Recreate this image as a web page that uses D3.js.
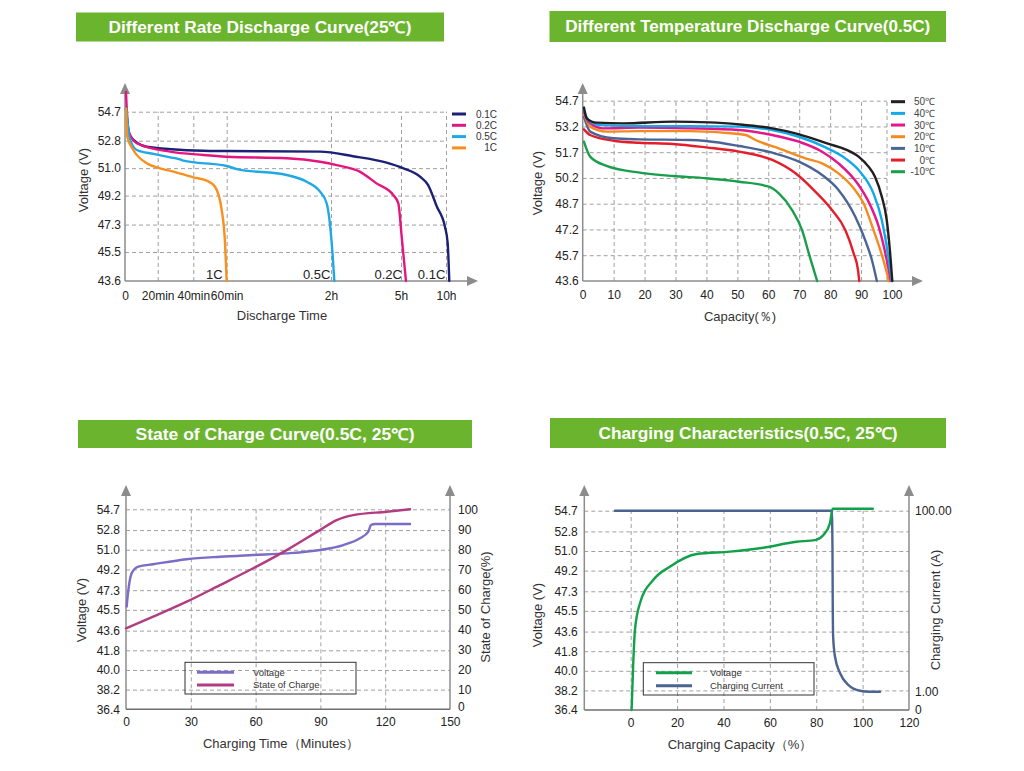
<!DOCTYPE html>
<html>
<head>
<meta charset="utf-8">
<script src="https://cdn.jsdelivr.net/npm/d3@7"></script>
<style>
  html, body { margin: 0; padding: 0; background: #fff; }
  svg { display: block; font-family: "Liberation Sans", Arial, sans-serif; }
</style>
</head>
<body>
<svg id="chart" width="1024" height="771"></svg>
<script>
// ---------- data: rate discharge (minutes, volts) ----------
var rateTimeTicks = [0, 20, 40, 60, 120, 300, 600];
var rateTimeLabels = ["0", "20min", "40min", "60min", "2h", "5h", "10h"];
var rateVoltTicks = [43.6, 45.5, 47.3, 49.2, 51.0, 52.8, 54.7];
var rateNames = ["0.1C", "0.2C", "0.5C", "1C"];
var rate01C = [[0.6, 54.9], [3, 53.1], [13.3, 52.4], [45.8, 52.14], [60, 52.12], [113.7, 52.08], [176.6, 51.78],
  [263, 51.36], [313, 51.0], [426.7, 50.44], [480, 49.9], [538, 48.5], [593, 47.16], [611, 46.1], [622, 43.6]];
var rate02C = [[0.6, 56.0], [2, 53.5], [7.2, 52.63], [26.9, 52.08], [46, 51.86], [60, 51.75], [94.5, 51.65],
  [113.7, 51.42], [134.7, 51.2], [194, 50.77], [237, 50.0], [280, 49.24], [293, 48.7], [304.7, 46.5], [333, 43.6]];
var rate05C = [[0.9, 54.9], [2.6, 53.06], [7.2, 52.19], [17.4, 51.93], [26.9, 51.71], [32.5, 51.58], [34.4, 51.49],
  [60, 51.14], [65.8, 50.94], [94.5, 50.55], [106, 50.11], [113.7, 49.46], [117.5, 48.7], [121.8, 46.1], [128.6, 43.6]];
var rate1C = [[0.6, 54.9], [1.4, 53.06], [5.1, 52.19], [13.3, 51.32], [21.4, 50.99], [28.9, 50.77], [40, 50.4],
  [48, 50.18], [53, 49.78], [57, 48.26], [59, 46.1], [60, 43.6]];

// ---------- data: temperature discharge (capacity %, volts) ----------
var tempCapTicks = [0, 10, 20, 30, 40, 50, 60, 70, 80, 90, 100];
var tempVoltTicks = [43.6, 45.7, 47.2, 48.7, 50.2, 51.7, 53.2, 54.7];
var tempNames = ["50℃", "40℃", "30℃", "20℃", "10℃", "0℃", "-10℃"];
var temp50 = [[0.4, 54.3], [1.3, 53.67], [4.5, 53.42], [13.1, 53.38], [29.2, 53.48], [40.9, 53.44], [50.6, 53.32],
  [61.3, 53.09], [68.8, 52.8], [74.2, 52.51], [79.5, 52.18], [84.9, 51.87], [89.2, 51.44], [92.4, 50.86],
  [94.5, 50.27], [96.7, 49.11], [98.3, 47.75], [99.4, 45.81], [100.1, 43.6]];
var temp40 = [[0.4, 54.16], [1.8, 53.57], [5.6, 53.28], [18.4, 53.22], [34.5, 53.22], [50.6, 53.19], [61.3, 52.99],
  [69.9, 52.6], [78.5, 51.98], [84.9, 51.34], [89.2, 50.66], [94, 49.3], [96.7, 47.75], [98.8, 45.58], [99.9, 43.6]];
var temp30 = [[0.4, 54.06], [1.8, 53.48], [6.6, 53.09], [18.4, 53.13], [34.5, 53.09], [50.6, 52.99], [61.3, 52.7],
  [69.9, 52.31], [77.4, 51.73], [82.7, 51.05], [89.2, 49.79], [92.4, 48.82], [95.7, 47.36], [98.3, 45.31], [99.6, 43.6]];
var temp20 = [[0.4, 53.96], [2.4, 53.19], [7.7, 52.9], [18.4, 52.93], [34.5, 52.93], [45.2, 52.84], [52.7, 52.7],
  [55.9, 52.41], [63.4, 51.92], [72, 51.34], [77.4, 51.05], [82.7, 50.47], [87.6, 49.6], [90.8, 48.72],
  [94, 47.17], [97.2, 45.31], [99, 43.6]];
var temp10 = [[0.4, 53.77], [2.4, 52.9], [9.9, 52.51], [18.4, 52.45], [34.5, 52.41], [39.9, 52.35], [50.6, 52.06],
  [61.3, 51.67], [69.9, 51.15], [77.4, 50.37], [82.7, 49.5], [88.1, 47.95], [91.3, 46.59], [93.5, 45.31], [95.1, 43.6]];
var temp0 = [[0.4, 53.03], [2.4, 52.7], [9.9, 52.37], [18.4, 52.25], [29.2, 52.18], [39.9, 51.98], [50.6, 51.73],
  [61.3, 51.25], [68.8, 50.47], [75.2, 49.4], [80.6, 48.33], [84.9, 47.17], [87.6, 45.81], [89, 44.5], [89.4, 43.6]];
var tempM10 = [[0.4, 52.31], [2.4, 51.44], [7.7, 50.9], [18.4, 50.51], [29.2, 50.31], [39.9, 50.18], [50.6, 49.98],
  [60.2, 49.69], [63.4, 49.3], [67.7, 48.33], [70.9, 47.17], [73.1, 45.81], [74.7, 44.5], [75.8, 43.6]];

// ---------- data: state of charge (minutes, volts / %) ----------
var socTimeTicks = [0, 30, 60, 90, 120, 150];
var chargeVoltTicks = [36.4, 38.2, 40.0, 41.8, 43.6, 45.5, 47.3, 49.2, 51.0, 52.8, 54.7];
var socTicks = [0, 10, 20, 30, 40, 50, 60, 70, 80, 90, 100];
var socVoltage = [[0.3, 45.79], [1.1, 47.32], [2.6, 48.84], [5.7, 49.45], [12.6, 49.67], [28.1, 50.13], [43.5, 50.36],
  [58.9, 50.52], [74.4, 50.67], [89.8, 50.98], [100.6, 51.43], [108.3, 52.05], [112.2, 52.65], [113.4, 53.26],
  [115.3, 53.36], [131.5, 53.36]];
var socPercent = [[0, 40.5], [12.6, 46.3], [28.1, 53.8], [43.5, 62.1], [58.9, 70.5], [74.4, 79.6], [89.8, 89.6],
  [97.5, 94.6], [105.2, 97.1], [120.7, 98.8], [131.5, 100]];

// ---------- data: charging characteristics (capacity %, volts / amps) ----------
var chgCapTicks = [0, 20, 40, 60, 80, 100, 120];
var chgCurrentTicks = [0, 1, 100];
var chgVoltage = [[0.4, 36.4], [1.1, 40.69], [1.85, 43.75], [4.0, 46.2], [9.7, 48.34], [16.9, 49.56], [28.5, 50.72],
  [42.8, 50.94], [57.2, 51.3], [71.5, 51.85], [79.5, 52.0], [83.1, 52.47], [85.9, 53.54], [87.1, 54.88], [104.4, 54.88]];
var chgCurrent = [[-6.8, 100], [86.7, 100], [87.0, 80], [87.1, 53], [87.3, 31], [88.1, 20.1], [90.3, 11.1],
  [93.8, 4.7], [98.9, 1.5], [103, 1.0], [107.5, 1.0]];

// ---------- drawing ----------
var svg = d3.select("#chart");
var GRID = "#a0a0a0", AXIS = "#8c8c8c", INK = "#222", FONT = "Liberation Sans, Arial, sans-serif";

function title(x, y, w, h, text, len) {
  svg.append("rect").attr("x", x).attr("y", y).attr("width", w).attr("height", h).attr("fill", "#6bb42d");
  svg.append("text")
    .attr("x", x + w / 2).attr("y", y + h / 2 + 5.5)
    .attr("text-anchor", "middle").attr("fill", "#fff")
    .attr("font-size", 16).attr("font-weight", "bold")
    .attr("textLength", len).attr("lengthAdjust", "spacingAndGlyphs")
    .text(text);
}

function axisUp(x, yBase, yTip) {
  svg.append("line").attr("x1", x).attr("x2", x).attr("y1", yBase).attr("y2", yTip + 10)
    .attr("stroke", AXIS).attr("stroke-width", 1.5);
  svg.append("path").attr("d", "M" + x + "," + yTip + "L" + (x - 5) + "," + (yTip + 11) + "L" + (x + 5) + "," + (yTip + 11) + "Z")
    .attr("fill", AXIS);
}

function axisRight(y, xStart, xTip, arrow, color) {
  svg.append("line").attr("x1", xStart).attr("x2", arrow ? xTip - 10 : xTip).attr("y1", y).attr("y2", y)
    .attr("stroke", color || AXIS).attr("stroke-width", 1.5);
  if (arrow) {
    svg.append("path").attr("d", "M" + xTip + "," + y + "L" + (xTip - 11) + "," + (y - 5) + "L" + (xTip - 11) + "," + (y + 5) + "Z")
      .attr("fill", AXIS);
  }
}

function styleGrid(s) {
  s.select(".domain").remove();
  s.selectAll("line").attr("stroke", GRID).attr("stroke-dasharray", "4,3");
}

function gridH(y, vals, x1, x2) {
  svg.append("g").attr("transform", "translate(" + x1 + ",0)")
    .call(d3.axisLeft(y).tickValues(vals).tickSize(-(x2 - x1)).tickFormat(""))
    .call(styleGrid);
}

function gridV(x, vals, y0, yTop) {
  svg.append("g").attr("transform", "translate(0," + y0 + ")")
    .call(d3.axisBottom(x).tickValues(vals).tickSize(-(y0 - yTop)).tickFormat(""))
    .call(styleGrid);
}

function styleLabels(s) {
  s.select(".domain").remove();
  s.attr("font-family", FONT).attr("font-size", 12).attr("color", INK);
}

function labelsLeft(y, vals, x, pad, fmt) {
  svg.append("g").attr("transform", "translate(" + x + ",0)")
    .call(d3.axisLeft(y).tickValues(vals).tickSize(0).tickPadding(pad).tickFormat(fmt))
    .call(styleLabels);
}

function labelsRight(y, vals, x, pad, fmt) {
  return svg.append("g").attr("transform", "translate(" + x + ",0)")
    .call(d3.axisRight(y).tickValues(vals).tickSize(0).tickPadding(pad).tickFormat(fmt))
    .call(styleLabels);
}

function labelsBottom(x, vals, y, pad, fmt) {
  svg.append("g").attr("transform", "translate(0," + y + ")")
    .call(d3.axisBottom(x).tickValues(vals).tickSize(0).tickPadding(pad).tickFormat(fmt))
    .call(styleLabels);
}

function hTitle(x, y, text) {
  svg.append("text").attr("x", x).attr("y", y).attr("text-anchor", "middle")
    .attr("font-size", 13).attr("fill", "#333").text(text);
}

function vTitle(x, y, text) {
  svg.append("text").attr("transform", "translate(" + x + "," + y + ") rotate(-90)")
    .attr("text-anchor", "middle").attr("font-size", 13).attr("fill", "#333").text(text);
}

function curve(data, x, y, color) {
  var line = d3.line().x(function(d) { return x(d[0]); }).y(function(d) { return y(d[1]); })
    .curve(d3.curveMonotoneX);
  svg.append("path").datum(data).attr("d", line)
    .attr("fill", "none").attr("stroke", color).attr("stroke-width", 2.4)
    .attr("stroke-linejoin", "round").attr("stroke-linecap", "round");
}

var fmt1 = d3.format(".1f");

// ===== Panel 1: Different Rate Discharge Curve =====
(function() {
  title(76, 12.5, 368, 29, "Different Rate Discharge Curve(25℃)", 303);
  var x = d3.scaleLinear().domain(rateTimeTicks).range([125, 157.7, 193.3, 226.7, 331, 401, 446]);
  var y = d3.scaleLinear().domain([43.6, 54.7]).range([281, 111.7]);
  gridH(y, rateVoltTicks.slice(1), 125, x(600));
  gridV(x, rateTimeTicks.slice(1), 281, y(54.7));
  axisUp(125, 281, 83);
  axisRight(281, 125, 478, true);
  labelsLeft(y, rateVoltTicks, 125, 4, fmt1);
  labelsBottom(x, rateTimeTicks, 281, 10, function(d, i) { return rateTimeLabels[i]; });
  hTitle(282, 320, "Discharge Time");
  vTitle(88, 180, "Voltage (V)");

  var series = [rate01C, rate02C, rate05C, rate1C];
  var colors = ["#1d2176", "#e3167f", "#20a8e6", "#f7901e"];
  series.forEach(function(s, i) { curve(s, x, y, colors[i]); });

  // rate label at the foot of each curve
  series.forEach(function(s, i) {
    svg.append("text").attr("x", x(s[s.length - 1][0]) - 4).attr("y", 279)
      .attr("text-anchor", "end").attr("font-size", 13).attr("fill", INK).text(rateNames[i]);
  });

  rateNames.forEach(function(n, i) {
    var ly = 114 + i * 11.3;
    svg.append("line").attr("x1", 452).attr("x2", 466).attr("y1", ly).attr("y2", ly)
      .attr("stroke", colors[i]).attr("stroke-width", 3);
    svg.append("text").attr("x", 497).attr("y", ly + 3.5).attr("text-anchor", "end")
      .attr("font-size", 10).attr("fill", "#333").text(n);
  });
})();

// ===== Panel 2: Different Temperature Discharge Curve =====
(function() {
  title(549.5, 11, 396.5, 31, "Different Temperature Discharge Curve(0.5C)", 365);
  var x = d3.scaleLinear().domain([0, 100]).range([582.7, 892]);
  var y = d3.scaleLinear().domain([43.6, 45.7, 54.7]).range([281, 255.2, 100.7]);
  gridH(y, tempVoltTicks.slice(1), 582.7, 887);
  gridV(x, tempCapTicks.slice(1, 10), 281, y(54.7));
  svg.append("line").attr("x1", 887).attr("x2", 887).attr("y1", 281).attr("y2", y(54.7))
    .attr("stroke", GRID).attr("stroke-dasharray", "4,3");
  axisUp(582.7, 281, 83);
  axisRight(281, 582.7, 923, true);
  labelsLeft(y, tempVoltTicks, 582.7, 4, fmt1);
  labelsBottom(x, tempCapTicks, 281, 9, d3.format("d"));
  hTitle(740, 321, "Capacity(％)");
  vTitle(542, 183, "Voltage (V)");

  var series = [temp50, temp40, temp30, temp20, temp10, temp0, tempM10];
  var colors = ["#231f20", "#12a9ea", "#e6168a", "#f38b1f", "#4b6496", "#e31e2a", "#1a9e4b"];
  for (var i = series.length - 1; i >= 0; i--) curve(series[i], x, y, colors[i]);

  tempNames.forEach(function(n, i) {
    var ly = 101.7 + i * 11.67;
    svg.append("line").attr("x1", 891).attr("x2", 905).attr("y1", ly).attr("y2", ly)
      .attr("stroke", colors[i]).attr("stroke-width", 3);
    svg.append("text").attr("x", 935).attr("y", ly + 3.5).attr("text-anchor", "end")
      .attr("font-size", 10).attr("fill", "#444").text(n);
  });
})();

// ===== Panel 3: State of Charge Curve =====
(function() {
  title(78, 420, 394, 28, "State of Charge Curve(0.5C, 25℃)", 279);
  var x = d3.scaleLinear().domain([0, 150]).range([126, 450]);
  var y = d3.scaleLinear().domain([36.4, 54.7]).range([709.3, 509.3]);
  var yR = d3.scaleLinear().domain([0, 100]).range([709.3, 509.3]);
  gridH(y, chargeVoltTicks.slice(1), 126, 450);
  gridV(x, socTimeTicks.slice(1, 5), 709.3, y(54.7));
  axisUp(126, 709.3, 485);
  axisUp(450, 709.3, 485);
  axisRight(709.3, 126, 450, false, "#6e6e6e");
  labelsLeft(y, chargeVoltTicks, 126, 6, fmt1);
  labelsRight(yR, socTicks, 450, 8, d3.format("d"))
    .selectAll(".tick text").filter(function(d) { return d === 0; }).attr("dy", "0.1em");
  labelsBottom(x, socTimeTicks, 709.3, 8.5, d3.format("d"));
  hTitle(281, 748, "Charging Time（Minutes）");
  vTitle(86, 610, "Voltage (V)");
  vTitle(490, 607, "State of Charge(%)");

  curve(socVoltage, x, y, "#7d6cc6");
  curve(socPercent, x, yR, "#b23b81");

  svg.append("rect").attr("x", 185).attr("y", 662.3).attr("width", 171).attr("height", 31.7)
    .attr("fill", "none").attr("stroke", "#333").attr("stroke-width", 1);
  [["Voltage", "#7d6cc6", 672.3], ["State of Charge", "#b23b81", 685]].forEach(function(d) {
    svg.append("line").attr("x1", 197).attr("x2", 234).attr("y1", d[2]).attr("y2", d[2])
      .attr("stroke", d[1]).attr("stroke-width", 3);
    svg.append("text").attr("x", 253).attr("y", d[2] + 3.3).attr("font-size", 9.5)
      .attr("fill", "#333").text(d[0]);
  });
})();

// ===== Panel 4: Charging Characteristics =====
(function() {
  title(550, 418, 396, 30, "Charging Characteristics(0.5C, 25℃)", 299);
  var x = d3.scaleLinear().domain([-20, 120]).range([584.3, 909]);
  var y = d3.scaleLinear().domain([36.4, 54.7]).range([710, 510.7]);
  var yR = d3.scaleLinear().domain(chgCurrentTicks).range([710, 691.7, 510.7]);
  gridH(y, chargeVoltTicks.slice(1), 584.3, 909);
  gridV(x, chgCapTicks.slice(0, 6), 710, y(54.7));
  axisUp(584.3, 710, 485);
  axisUp(909, 710, 485);
  axisRight(710, 584.3, 909, false, "#6e6e6e");
  labelsLeft(y, chargeVoltTicks, 584.3, 6.5, fmt1);
  labelsRight(yR, chgCurrentTicks, 909, 6, function(d) { return d === 0 ? "0" : d3.format(".2f")(d); });
  labelsBottom(x, chgCapTicks, 710, 8.5, d3.format("d"));
  hTitle(740, 749, "Charging Capacity（%）");
  vTitle(542, 615, "Voltage (V)");
  vTitle(940, 610, "Charging Current (A)");

  curve(chgCurrent, x, yR, "#4a6391");
  curve(chgVoltage, x, y, "#12a04b");

  svg.append("rect").attr("x", 643.3).attr("y", 662.7).attr("width", 170.7).attr("height", 32.3)
    .attr("fill", "none").attr("stroke", "#333").attr("stroke-width", 1);
  [["Voltage", "#12a04b", 672.7], ["Charging Current", "#4a6391", 685.7]].forEach(function(d) {
    svg.append("line").attr("x1", 656).attr("x2", 692).attr("y1", d[2]).attr("y2", d[2])
      .attr("stroke", d[1]).attr("stroke-width", 3);
    svg.append("text").attr("x", 710).attr("y", d[2] + 3.3).attr("font-size", 9.5)
      .attr("fill", "#333").text(d[0]);
  });
})();
</script>
</body>
</html>
